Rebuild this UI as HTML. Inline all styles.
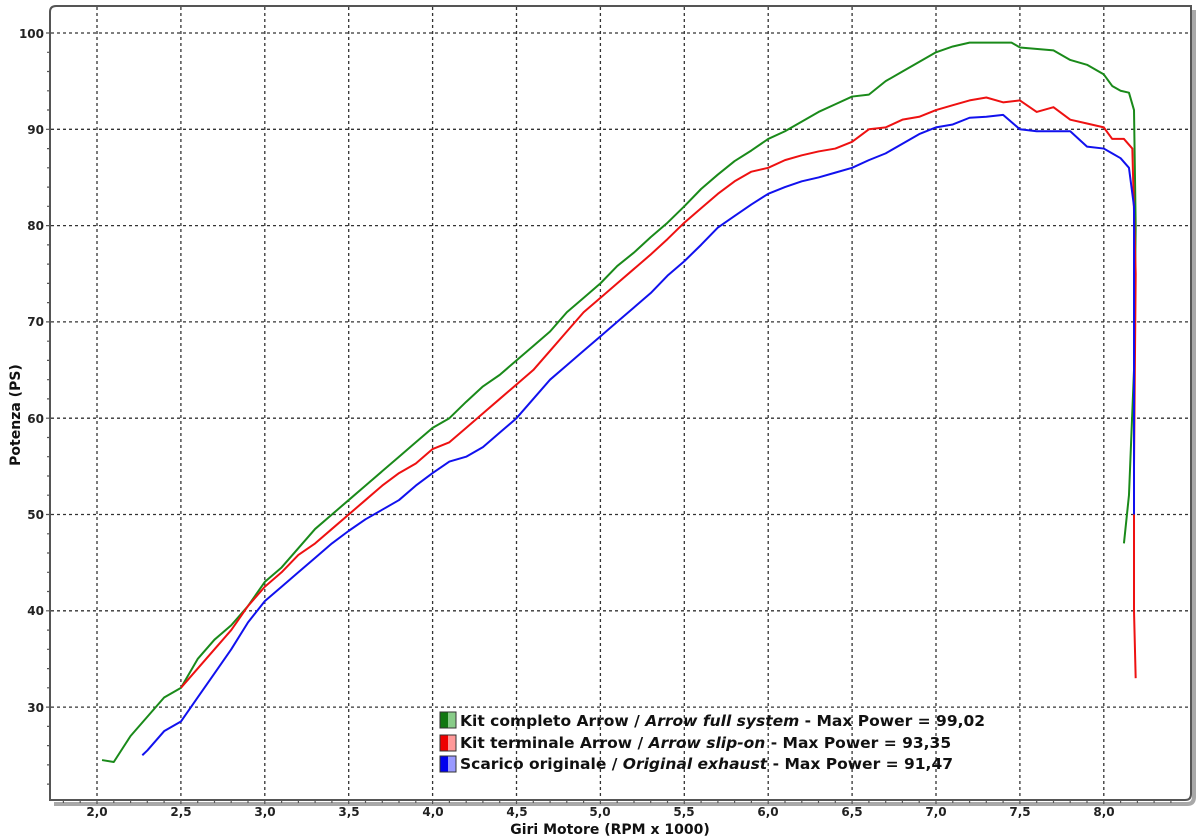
<!DOCTYPE html>
<html><head><meta charset="utf-8"><style>
html,body{margin:0;padding:0;background:#fff;}
svg{display:block;font-family:"DejaVu Sans","Liberation Sans",sans-serif;}
</style></head><body>
<svg width="1200" height="840" viewBox="0 0 1200 840" xmlns="http://www.w3.org/2000/svg">
<rect width="1200" height="840" fill="#fff"/>
<path d="M1194 10 L1194 797 Q1194 804 1187 804 L54 804" fill="none" stroke="#a8a8a8" stroke-width="4"/>
<g stroke="#333" stroke-width="1.3" stroke-dasharray="3,3" fill="none">
<line x1="51" y1="33" x2="1190" y2="33"/>
<line x1="51" y1="129.3" x2="1190" y2="129.3"/>
<line x1="51" y1="225.6" x2="1190" y2="225.6"/>
<line x1="51" y1="321.9" x2="1190" y2="321.9"/>
<line x1="51" y1="418.2" x2="1190" y2="418.2"/>
<line x1="51" y1="514.5" x2="1190" y2="514.5"/>
<line x1="51" y1="610.8" x2="1190" y2="610.8"/>
<line x1="51" y1="707.1" x2="1190" y2="707.1"/>
<line x1="97" y1="7" x2="97" y2="799"/>
<line x1="180.9" y1="7" x2="180.9" y2="799"/>
<line x1="264.8" y1="7" x2="264.8" y2="799"/>
<line x1="348.7" y1="7" x2="348.7" y2="799"/>
<line x1="432.6" y1="7" x2="432.6" y2="799"/>
<line x1="516.5" y1="7" x2="516.5" y2="799"/>
<line x1="600.4" y1="7" x2="600.4" y2="799"/>
<line x1="684.3" y1="7" x2="684.3" y2="799"/>
<line x1="768.2" y1="7" x2="768.2" y2="799"/>
<line x1="852.1" y1="7" x2="852.1" y2="799"/>
<line x1="936" y1="7" x2="936" y2="799"/>
<line x1="1019.9" y1="7" x2="1019.9" y2="799"/>
<line x1="1103.8" y1="7" x2="1103.8" y2="799"/>
</g>
<path d="M50 800 L50 12 Q50 6 56 6 L1191 6 L1191 794 Q1191 800 1185 800 Z" fill="none" stroke="#555" stroke-width="2"/>
<g stroke="#555" stroke-width="1.2">
<path d="M97 800v4M113.8 800v3M130.6 800v3M147.3 800v3M164.1 800v3M180.9 800v4M197.7 800v3M214.5 800v3M231.2 800v3M248 800v3M264.8 800v4M281.6 800v3M298.4 800v3M315.1 800v3M331.9 800v3M348.7 800v4M365.5 800v3M382.3 800v3M399 800v3M415.8 800v3M432.6 800v4M449.4 800v3M466.2 800v3M482.9 800v3M499.7 800v3M516.5 800v4M533.3 800v3M550.1 800v3M566.8 800v3M583.6 800v3M600.4 800v4M617.2 800v3M634 800v3M650.7 800v3M667.5 800v3M684.3 800v4M701.1 800v3M717.9 800v3M734.6 800v3M751.4 800v3M768.2 800v4M785 800v3M801.8 800v3M818.5 800v3M835.3 800v3M852.1 800v4M868.9 800v3M885.7 800v3M902.4 800v3M919.2 800v3M936 800v4M952.8 800v3M969.6 800v3M986.3 800v3M1003.1 800v3M1019.9 800v4M1036.7 800v3M1053.5 800v3M1070.2 800v3M1087 800v3M1103.8 800v4M1120.6 800v3M1137.4 800v3M1154.1 800v3M1170.9 800v3M80.2 800v3M63.4 800v3"/>
<path d="M46 33h4M47 52.3h3M47 71.5h3M47 90.8h3M47 110h3M46 129.3h4M47 148.6h3M47 167.8h3M47 187.1h3M47 206.3h3M46 225.6h4M47 244.9h3M47 264.1h3M47 283.4h3M47 302.6h3M46 321.9h4M47 341.2h3M47 360.4h3M47 379.7h3M47 398.9h3M46 418.2h4M47 437.5h3M47 456.7h3M47 476h3M47 495.2h3M46 514.5h4M47 533.8h3M47 553h3M47 572.3h3M47 591.5h3M46 610.8h4M47 630.1h3M47 649.3h3M47 668.6h3M47 687.8h3M46 707.1h4M47 726.4h3M47 745.6h3M47 764.9h3M47 784.1h3"/>
</g>
<g font-size="12" font-weight="bold" fill="#222" text-anchor="end">
<text x="44" y="38">100</text><text x="44" y="134">90</text><text x="44" y="230">80</text><text x="44" y="326">70</text><text x="44" y="423">60</text><text x="44" y="519">50</text><text x="44" y="615">40</text><text x="44" y="712">30</text>
</g>
<g font-size="12" font-weight="bold" fill="#222" text-anchor="middle">
<text x="97" y="816">2,0</text><text x="181" y="816">2,5</text><text x="265" y="816">3,0</text><text x="349" y="816">3,5</text><text x="433" y="816">4,0</text><text x="517" y="816">4,5</text><text x="600" y="816">5,0</text><text x="684" y="816">5,5</text><text x="768" y="816">6,0</text><text x="852" y="816">6,5</text><text x="936" y="816">7,0</text><text x="1020" y="816">7,5</text><text x="1104" y="816">8,0</text>
</g>
<text x="610" y="834" font-size="14" font-weight="bold" fill="#111" text-anchor="middle">Giri Motore (RPM x 1000)</text>
<text transform="translate(20,415) rotate(-90)" font-size="14" font-weight="bold" fill="#111" text-anchor="middle">Potenza (PS)</text>
<g transform="matrix(167.8,0,0,-9.63,-238.6,996)" fill="none" stroke-width="2" stroke-linejoin="round">
<polyline vector-effect="non-scaling-stroke" stroke="#1a8a1a" points="2.03,24.5 2.1,24.3 2.2,27 2.3,29 2.4,31 2.5,32 2.6,35 2.7,37 2.8,38.5 2.9,40.5 3.0,43 3.1,44.5 3.2,46.5 3.3,48.5 3.4,50 3.5,51.5 3.6,53 3.7,54.5 3.8,56 3.9,57.5 4.0,59 4.1,60 4.2,61.7 4.3,63.3 4.4,64.5 4.5,66 4.6,67.5 4.7,69 4.8,71 4.9,72.5 5.0,74 5.1,75.8 5.2,77.2 5.3,78.8 5.4,80.3 5.5,82 5.6,83.8 5.7,85.3 5.8,86.7 5.9,87.8 6.0,89 6.1,89.8 6.2,90.8 6.3,91.8 6.4,92.6 6.5,93.4 6.6,93.6 6.7,95 6.8,96 6.9,97 7.0,98 7.1,98.6 7.2,99 7.3,99 7.45,99 7.5,98.5 7.7,98.2 7.8,97.2 7.9,96.7 8.0,95.7 8.05,94.5 8.1,94 8.15,93.8 8.18,92 8.19,80 8.18,65 8.15,52 8.12,47"/>
<polyline vector-effect="non-scaling-stroke" stroke="#ee1111" points="2.5,32 2.6,34 2.7,36 2.8,38 2.9,40.5 3.0,42.5 3.1,44 3.2,45.8 3.3,47 3.4,48.5 3.5,50 3.6,51.5 3.7,53 3.8,54.3 3.9,55.3 4.0,56.8 4.1,57.5 4.2,59 4.3,60.5 4.4,62 4.5,63.5 4.6,65 4.7,67 4.8,69 4.9,71 5.0,72.5 5.1,74 5.2,75.5 5.3,77 5.4,78.6 5.5,80.3 5.6,81.8 5.7,83.3 5.8,84.6 5.9,85.6 6.0,86 6.1,86.8 6.2,87.3 6.3,87.7 6.4,88 6.5,88.7 6.6,90 6.7,90.2 6.8,91 6.9,91.3 7.0,92 7.1,92.5 7.2,93 7.3,93.3 7.4,92.8 7.5,93 7.6,91.8 7.7,92.3 7.8,91 7.9,90.6 8.0,90.2 8.05,89 8.12,89 8.17,88 8.19,75 8.18,55 8.18,40 8.19,33"/>
<polyline vector-effect="non-scaling-stroke" stroke="#1111ee" points="2.27,25 2.3,25.5 2.4,27.5 2.5,28.5 2.6,31 2.7,33.5 2.8,36 2.9,38.8 3.0,41 3.1,42.5 3.2,44 3.3,45.5 3.4,47 3.5,48.3 3.6,49.5 3.7,50.5 3.8,51.5 3.9,53 4.0,54.3 4.1,55.5 4.2,56 4.3,57 4.4,58.5 4.5,60 4.6,62 4.7,64 4.8,65.5 4.9,67 5.0,68.5 5.1,70 5.2,71.5 5.3,73 5.4,74.8 5.5,76.3 5.6,78 5.7,79.8 5.8,81 5.9,82.2 6.0,83.3 6.1,84 6.2,84.6 6.3,85 6.4,85.5 6.5,86 6.6,86.8 6.7,87.5 6.8,88.5 6.9,89.5 7.0,90.2 7.1,90.5 7.2,91.2 7.3,91.3 7.4,91.5 7.5,90 7.6,89.8 7.7,89.8 7.8,89.8 7.9,88.2 8.0,88 8.05,87.5 8.1,87 8.15,86 8.18,82 8.18,65 8.18,50"/>
</g>
<g>
<rect x="440" y="712" width="8" height="16" fill="#117711"/><rect x="448" y="712" width="8" height="16" fill="#88cc88"/><rect x="440" y="712" width="16" height="16" fill="none" stroke="#333"/>
<rect x="440" y="735" width="8" height="16" fill="#ee0000"/><rect x="448" y="735" width="8" height="16" fill="#ff9999"/><rect x="440" y="735" width="16" height="16" fill="none" stroke="#333"/>
<rect x="440" y="756" width="8" height="16" fill="#0000ee"/><rect x="448" y="756" width="8" height="16" fill="#9999ff"/><rect x="440" y="756" width="16" height="16" fill="none" stroke="#333"/>
</g>
<g font-size="15.5" font-weight="bold" fill="#111">
<text x="460" y="726">Kit completo Arrow / <tspan font-style="italic">Arrow full system</tspan> - Max Power = 99,02</text>
<text x="460" y="748">Kit terminale Arrow / <tspan font-style="italic">Arrow slip-on</tspan> - Max Power = 93,35</text>
<text x="460" y="769">Scarico originale / <tspan font-style="italic">Original exhaust</tspan> - Max Power = 91,47</text>
</g>
</svg>
</body></html>
